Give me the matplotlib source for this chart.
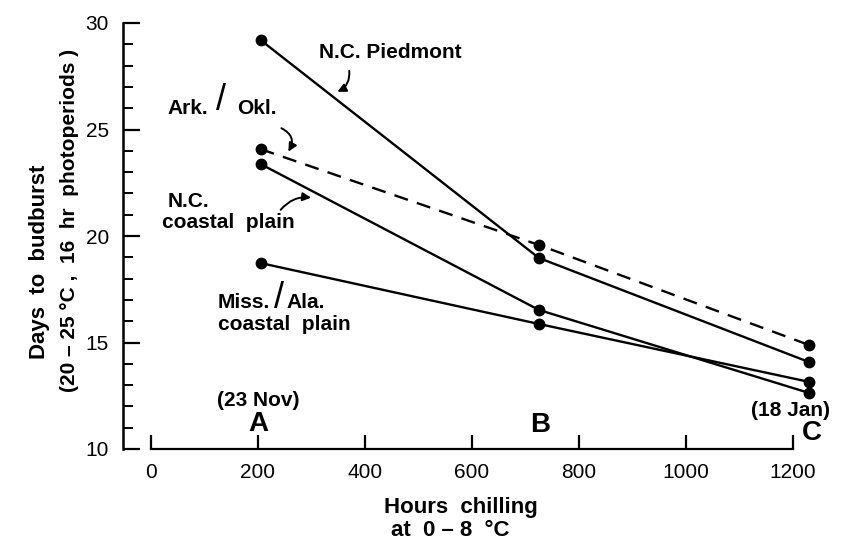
import matplotlib
matplotlib.use('Agg')
import matplotlib.pyplot as plt
from matplotlib.ticker import MultipleLocator

# chilling hours at the three sampling dates (A, B, C)
hours = [205, 725, 1230]

# days to budburst per seed source
piedmont = [29.2, 18.97, 14.08]
ark_okl = [24.08, 19.58, 14.88]
nc_coastal = [23.38, 16.53, 12.63]
miss_ala = [18.73, 15.87, 13.15]

x_ticks = [0, 200, 400, 600, 800, 1000, 1200]
y_ticks = [10, 15, 20, 25, 30]

plt.rcParams['font.family'] = ['Liberation Sans', 'DejaVu Sans']

fig = plt.figure(figsize=(8.51, 5.42), dpi=100)
ax = fig.add_axes([123 / 851, 1 - 449 / 542, (845 - 123) / 851, (449 - 23) / 542])

style = dict(color='black', lw=1.7, marker='o', ms=7.5)
ax.plot(hours, piedmont, **style)
ax.plot(hours, ark_okl, ls=(0, (6, 4)), **style)
ax.plot(hours, nc_coastal, **style)
ax.plot(hours, miss_ala, **style)

ax.set_xlim(-52, 1297)
ax.set_ylim(10, 30)
ax.spines['top'].set_visible(False)
ax.spines['right'].set_visible(False)
ax.spines['bottom'].set_bounds(0, 1200)
ax.spines['left'].set_linewidth(1.8)
ax.spines['bottom'].set_linewidth(1.6)

ax.set_xticks(x_ticks)
ax.set_yticks(y_ticks)
ax.yaxis.set_minor_locator(MultipleLocator(1))
ax.tick_params(axis='both', direction='in', width=1.6)
ax.tick_params(axis='x', length=10, pad=10)
ax.tick_params(axis='y', which='major', length=12, pad=10)
ax.tick_params(axis='y', which='minor', length=7, width=1.4, direction='in')
for lab in ax.get_xticklabels() + ax.get_yticklabels():
    lab.set_family(['Liberation Sans Narrow', 'Liberation Sans'])
    lab.set_fontsize(15)

# axis titles
fig.text(40 / 851, 1 - 262 / 542, 'Days  to  budburst', rotation=90,
         ha='center', va='center', fontsize=16, fontweight='bold')
fig.text(70 / 851, 1 - 220 / 542, '(20 \u2013 25 \u00b0C ,  16  hr  photoperiods )', rotation=90,
         ha='center', va='center', fontsize=15, fontweight='bold')
fig.text(461 / 851, 1 - 508 / 542, 'Hours  chilling', ha='center', va='center',
         fontsize=16, fontweight='bold')
fig.text(450 / 851, 1 - 531 / 542, 'at  0 \u2013 8  \u00b0C', ha='center', va='center',
         fontsize=16, fontweight='bold')


def px(x, y):
    # pixel position in the picture -> data coordinates
    return ((x - 151) / 0.535, 10 + (449 - y) / 21.3)


def label(x, y, s, size=15, ha='left', weight='bold'):
    ax.text(*px(x, y), s, ha=ha, va='center', fontsize=size, fontweight=weight)


label(390, 53, 'N.C. Piedmont', ha='center')
label(168, 108, 'Ark.')
label(221, 101, '/', size=26, ha='center', weight='normal')
label(237, 108, 'Okl.')
label(168, 202, 'N.C.')
label(162, 223, 'coastal  plain')
label(218, 303, 'Miss.')
label(279, 298, '/', size=26, ha='center', weight='normal')
label(287, 303, 'Ala.')
label(218, 325, 'coastal  plain')

label(258, 400, '(23 Nov)', ha='center')
label(258, 424, 'A', size=20, ha='center')
label(540, 425, 'B', size=20, ha='center')
label(790, 410, '(18 Jan)', ha='center')
label(812, 433, 'C', size=20, ha='center')

arrow = dict(arrowstyle='-|>,head_length=0.5,head_width=0.25', color='black', lw=1.4)
ax.annotate('', xy=px(335, 93), xytext=px(349, 68),
            arrowprops=dict(connectionstyle='arc3,rad=-0.4', **arrow))
ax.annotate('', xy=px(287, 154), xytext=px(279, 127),
            arrowprops=dict(connectionstyle='arc3,rad=-0.6', **arrow))
ax.annotate('', xy=px(314, 198), xytext=px(279, 212),
            arrowprops=dict(connectionstyle='arc3,rad=-0.3', **arrow))

fig.savefig('out.png', dpi=100)
